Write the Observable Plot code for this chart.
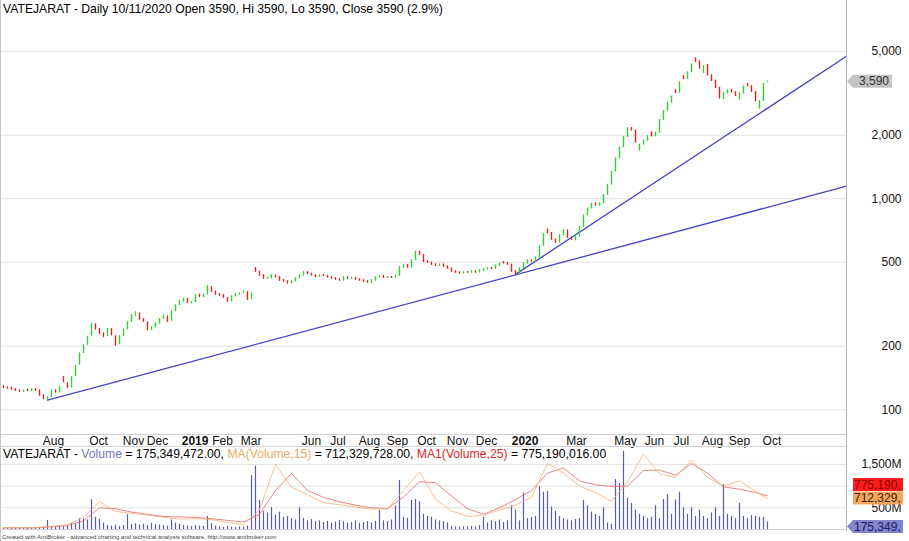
<!DOCTYPE html>
<html><head><meta charset="utf-8">
<script src="https://cdn.jsdelivr.net/npm/d3@7"></script>
<script src="https://cdn.jsdelivr.net/npm/@observablehq/plot@0.6"></script>
<style>
html,body{margin:0;padding:0;background:#fff;}
#wrap{position:relative;width:909px;height:541px;overflow:hidden;background:#fff;font-family:"Liberation Sans",Arial,sans-serif;color:#000;}
#wrap svg{position:absolute;left:0;}
.t{position:absolute;white-space:nowrap;font-size:12.2px;line-height:12px;}
.ln{position:absolute;}
</style></head><body><div id="wrap"></div>
<script>
// ---------- DATA ----------
const symbol = "VATEJARAT";
const lastDate = "10/11/2020";
const open = [
129,127,126,125,123,122,124,123,125,123,
117,112,115,123,121,142,133,128,145,164,
186,204,225,252,240,229,224,240,222,205,
224,241,261,280,285,268,258,239,246,257,
270,276,265,294,314,326,334,320,324,350,
343,352,380,362,353,348,338,327,345,352,
360,360,335,468,450,433,418,420,432,424,
410,405,398,406,420,434,448,440,432,427,
434,430,424,419,414,410,424,418,420,414,
410,405,400,410,425,430,422,425,423,432,
472,484,474,512,560,540,504,497,488,481,
487,477,466,452,447,443,448,447,452,448,
457,463,468,466,482,500,495,486,452,442,
468,493,510,505,528,600,712,686,640,622,
672,706,654,640,664,738,836,902,948,930,
955,1045,1170,1350,1560,1760,1965,2160,2100,1700,
1810,1890,2060,1980,2060,2370,2620,2860,3260,3190,
3800,3710,3980,4600,4460,3960,4300,3840,3620,3350,
2980,3160,3260,3200,2960,3160,3480,3400,3200,2690,
2920,3590];
const close = [
127,126,125,123,122,123,123,125,123,117,
113,114,122,121,128,136,127,142,161,184,
201,220,253,241,229,222,241,226,203,222,
239,259,280,286,268,262,239,245,256,268,
277,262,292,312,326,333,322,322,348,344,
348,384,363,352,348,340,326,344,352,355,
362,333,355,452,433,419,419,433,425,410,
405,397,405,419,433,447,440,433,426,433,
431,424,419,414,410,424,419,420,414,410,
405,401,410,424,428,422,425,423,430,472,
482,472,509,555,543,503,498,487,482,487,
477,467,452,447,443,447,447,452,447,457,
462,467,466,482,492,495,487,452,440,467,
492,509,505,526,594,680,688,641,620,670,
708,655,641,662,735,832,898,945,932,950,
1040,1162,1341,1548,1748,1952,2150,2110,1850,1800,
1880,1974,1980,2050,2356,2603,2846,3039,3180,3555,
3700,3964,4325,4470,4150,4250,3850,3624,3355,3007,
3150,3246,3200,3072,3150,3393,3420,3214,2906,2900,
3489,3590];
const high = [
130,128,128,126,124,124,125,126,126,124,
118,115,124,124,129,144,134,143,162,186,
203,222,258,256,242,231,243,242,224,224,
241,261,282,292,287,270,260,248,258,270,
282,278,294,314,330,338,336,326,350,352,
352,388,382,364,355,351,340,346,354,358,
364,362,357,472,452,435,424,436,434,426,
413,407,408,421,436,450,451,442,435,436,
437,432,426,421,416,426,427,423,422,416,
412,407,412,426,432,432,428,428,433,475,
486,487,512,565,564,542,508,500,491,490,
489,479,468,454,449,450,451,455,454,460,
465,470,471,484,495,503,498,488,455,469,
494,512,514,529,597,684,720,688,642,672,
712,708,656,666,738,836,902,950,952,955,
1045,1168,1348,1555,1756,1960,2160,2175,2110,1810,
1890,1985,2070,2060,2370,2615,2860,3055,3280,3570,
3820,3980,4340,4650,4480,4270,4330,3860,3640,3370,
3170,3300,3300,3220,3170,3410,3530,3420,3220,2920,
3500,3590];
const low = [
126,125,124,122,121,121,122,122,122,116,
112,111,114,120,120,134,126,127,144,163,
185,202,224,238,227,219,223,224,200,204,
222,240,259,278,265,259,236,237,244,255,
268,259,263,292,312,323,320,318,322,340,
341,350,360,349,345,338,323,325,343,350,
358,330,333,448,430,416,415,418,422,407,
402,394,396,404,418,432,437,430,423,425,
429,421,416,411,407,408,416,416,411,407,
402,398,398,408,423,419,420,420,421,430,
470,469,472,510,538,500,495,484,479,479,
474,464,449,444,440,441,444,445,444,446,
455,461,463,464,480,492,484,449,436,440,
466,491,502,503,526,596,684,638,615,620,
670,652,636,632,662,736,833,898,925,925,
952,1042,1166,1345,1555,1755,1960,2100,1840,1680,
1800,1880,1970,1975,2050,2360,2610,2850,3170,3180,
3690,3700,3970,4440,4120,3950,3830,3600,3330,2960,
2960,3150,3180,3050,2940,3150,3400,3190,2880,2660,
2910,3590];
// volume in millions
const volume = [
40,35,30,45,30,35,40,30,45,50,
60,210,60,55,70,65,80,140,130,250,
240,220,685,280,230,150,90,80,100,70,
90,340,110,130,100,120,90,140,110,100,
90,80,220,150,120,90,80,70,90,80,
75,300,130,80,60,50,70,55,45,60,
50,80,1244,1458,668,420,380,507,330,400,
280,300,250,220,500,260,200,230,180,200,
160,190,150,170,210,180,150,160,200,140,
160,180,150,190,445,200,180,220,545,1129,
280,260,670,690,640,350,300,280,220,200,
180,150,70,60,55,65,60,70,60,90,
280,150,200,180,220,160,200,545,450,200,
837,250,280,300,990,860,870,520,420,300,
250,220,200,230,250,670,545,400,350,300,
500,150,120,1150,1060,1804,720,600,450,350,
300,250,280,545,250,690,800,350,680,860,
500,350,500,300,450,300,250,380,500,300,
1037,350,300,250,600,300,250,320,300,280,
280,175];
const maIdx = [0,4,8,12,16,20,24,28,32,36,40,44,48,52,56,60,64,68,72,76,80,84,88,92,96,100,104,108,112,116,120,124,128,132,136,140,144,148,152,156,160,164,168,172,176,180,184,188,191];
const ma15 = [
40,40,42,70,110,280,640,420,370,330,
280,240,250,230,160,110,450,1500,970,800,
620,570,520,470,480,900,1330,700,430,300,
330,450,560,750,1520,1300,1000,850,650,1100,
1740,1280,1200,1600,1200,1000,1120,880,712];
const ma25 = [
40,40,40,60,90,200,500,480,400,350,
300,290,280,250,210,170,350,900,1290,900,
740,640,560,500,480,750,1100,1080,770,480,
350,500,690,900,1300,1420,1120,1030,990,1000,
1360,1370,1250,1520,1300,980,930,850,775];
const lastVolume = 175349472.00, lastMa15 = 712329728.00, lastMa25 = 775190016.00;
const monthNames = ["Aug","Oct","Nov","Dec","Feb","Mar","Jun","Jul","Aug","Sep","Oct","Nov","Dec","Mar","May","Jun","Jul","Aug","Sep","Oct"];
const monthIdx = [12.5,23.75,32.5,38.5,54.75,61.9,77,83.6,91.5,98.5,105.75,113.5,120.75,143.25,155.5,162.75,169.5,177.25,184,192.1];
const yearNames = ["2019","2020"];
const yearIdx = [47.9,130.4];
const priceTicks = [100,200,500,1000,2000,5000];
const volTicks = [500,1000,1500];
const volLabelTicks = [500,1500];
const trend1 = [[11,111],[210.75,1147]];
const trend2 = [[128,438],[210.75,4740]];

// ---------- LAYOUT ----------
const FONT = '"Liberation Sans", Arial, sans-serif';
const GREEN = "#30d030", RED = "#e42020";
const xDomain = [-0.75, 210.75];
const wrap = document.getElementById("wrap");
const n = close.length;
const candles = close.map((c, i) => ({i, o: open[i], h: high[i], l: low[i], c}));
const col = d => d.c >= d.o ? GREEN : RED;
const fmt = d3.format(",");

const price = Plot.plot({
  width: 909, height: 447, marginLeft: 0, marginRight: 63, marginTop: 0, marginBottom: 13,
  x: {domain: xDomain, axis: null},
  y: {type: "log", domain: [76.3, 8704], axis: null},
  color: {type: "identity"},
  style: {background: "transparent", fontFamily: FONT, fontSize: "12px", overflow: "visible"},
  marks: [
    Plot.ruleY(priceTicks, {stroke: "#e2e2e2"}),
    Plot.ruleY([76.3], {stroke: "#cfcfcf"}),
    Plot.line(trend1, {x: d => d[0], y: d => d[1], stroke: "#4343c6", strokeWidth: 1.3}),
    Plot.line(trend2, {x: d => d[0], y: d => d[1], stroke: "#4343c6", strokeWidth: 1.3}),
    Plot.ruleX(candles, {x: "i", y1: "l", y2: "h", stroke: col, strokeWidth: 0.9, strokeOpacity: 0.8}),
    Plot.ruleX(candles, {x: "i", y1: "o", y2: "c", stroke: col, strokeWidth: 1.4, strokeLinecap: "square"}),
    Plot.text(priceTicks, {y: d => d, text: d => fmt(d), frameAnchor: "right", textAnchor: "end", dx: 55, fontSize: 12, fill: "#111"}),
    Plot.text(monthIdx, {x: d => d, text: (d, k) => monthNames[k], frameAnchor: "bottom", dy: 6.5, lineAnchor: "middle", fontSize: 12, fill: "#111"}),
    Plot.text(yearIdx, {x: d => d, text: (d, k) => yearNames[k], frameAnchor: "bottom", dy: 6.5, lineAnchor: "middle", fontSize: 12, fontWeight: "bold", fill: "#111"})
  ]
});
price.style.top = "0px";
wrap.appendChild(price);

const vol = Plot.plot({
  width: 909, height: 94, marginLeft: 0, marginRight: 63, marginTop: 0, marginBottom: 12,
  x: {domain: xDomain, axis: null},
  y: {domain: [0, 1889.4], axis: null},
  style: {background: "transparent", fontFamily: FONT, fontSize: "12px", overflow: "visible"},
  marks: [
    Plot.ruleY(volTicks, {stroke: "#e2e2e2"}),
    Plot.ruleY([0], {stroke: "#cfcfcf"}),
    Plot.ruleX(volume, {x: (d, i) => i, y1: 0, y2: d => d, stroke: "#5a5aae", strokeWidth: 1.2}),
    Plot.line(maIdx, {x: d => d, y: (d, k) => ma25[k], stroke: "#e86464", strokeWidth: 0.8}),
    Plot.line(maIdx, {x: d => d, y: (d, k) => ma15[k], stroke: "#f5b07a", strokeWidth: 0.8}),
    Plot.text(volLabelTicks, {y: d => d, text: d => fmt(d) + "M", frameAnchor: "right", textAnchor: "end", dx: 55, fontSize: 12, fill: "#111"})
  ]
});
vol.style.top = "447px";
wrap.appendChild(vol);

// frame lines
function line(l, t, w, h, c) {
  const d = document.createElement("div");
  d.className = "ln";
  Object.assign(d.style, {left: l + "px", top: t + "px", width: w + "px", height: h + "px", background: c});
  wrap.appendChild(d);
}
line(0, 0, 1, 541, "#c8c8c8");
line(846, 0, 1, 531, "#b6b6b6");
line(0, 446, 846, 1, "#d4d4d4");

// text blocks
function text(l, t, html, extra) {
  const d = document.createElement("div");
  d.className = "t";
  d.style.left = l + "px"; d.style.top = t + "px";
  if (extra) Object.assign(d.style, extra);
  d.innerHTML = html;
  wrap.appendChild(d);
}
const L = n - 1;
const pct = ((close[L] / close[L - 1] - 1) * 100).toFixed(1);
text(3, 3, `${symbol} - Daily ${lastDate} Open ${open[L]}, Hi ${high[L]}, Lo ${low[L]}, Close ${close[L]} (${pct}%)`);
const f2 = d3.format(",.2f");
text(3, 448, `${symbol} - <span style="color:#7474c4">Volume</span> = ${f2(lastVolume)}, <span style="color:#f2a868">MA(Volume,15)</span> = ${f2(lastMa15)}, <span style="color:#e02828">MA1(Volume,25)</span> = ${f2(lastMa25)}`);
text(2, 533, "Created with AmiBroker - advanced charting and technical analysis software. http://www.amibroker.com", {fontSize: "6px", lineHeight: "8px", color: "#444"});

// value label boxes
const ov = d3.create("svg").attr("width", 909).attr("height", 541).style("top", "0px").style("pointer-events", "none")
  .style("font-family", FONT).style("font-size", "12px");
const g = ov.append("g");
const py = price.scale("y").apply(close[L]);
const vy = v => 447 + vol.scale("y").apply(v);
function box(yc, fill, txt, tcol, arrow, right) {
  const pts = arrow
    ? [[847, yc], [853, yc - 6.5], [right, yc - 6.5], [right, yc + 6.5], [853, yc + 6.5]]
    : [[853, yc - 6.5], [right, yc - 6.5], [right, yc + 6.5], [853, yc + 6.5]];
  g.append("polygon").attr("points", pts.map(p => p.join(",")).join(" ")).attr("fill", fill);
  g.append("text").attr("x", right < 900 ? right - 3 : 854).attr("y", yc).attr("dy", "0.36em")
    .attr("text-anchor", right < 900 ? "end" : "start").attr("fill", tcol).text(txt);
}
const cut = v => fmt(Math.round(v)).slice(0, 8);
box(py, "#c4c4c4", fmt(close[L]), "#333", true, 892);
const oy = vy(lastMa15 / 1e6);
box(oy - 13.5, "#ff1c1c", cut(lastMa25), "#8a0000", false, 903);
box(oy, "#f5a65e", cut(lastMa15), "#3a2408", false, 903);
box(vy(lastVolume / 1e6) + 5, "#8484cc", cut(lastVolume), "#1c1c6a", true, 903);
wrap.appendChild(ov.node());
</script></body></html>
